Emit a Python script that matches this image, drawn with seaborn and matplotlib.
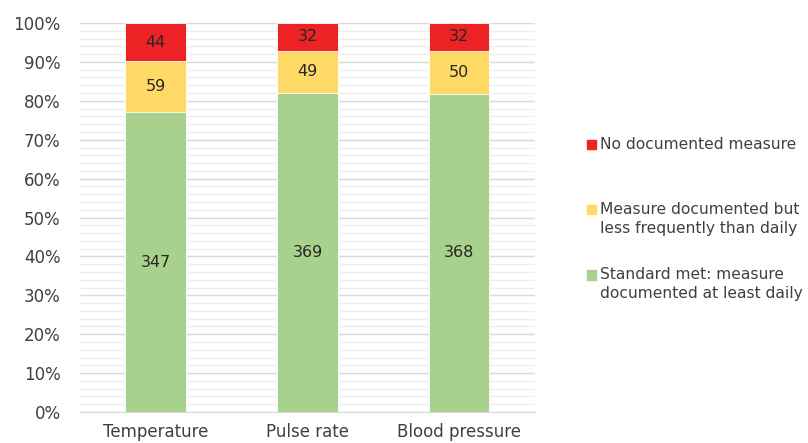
import pandas as pd
import matplotlib.pyplot as plt
import seaborn as sns
from matplotlib.patches import Rectangle
from matplotlib.ticker import MultipleLocator, PercentFormatter

categories = ['Temperature', 'Pulse rate', 'Blood pressure']
met = [347, 369, 368]
less_daily = [59, 49, 50]
none_doc = [44, 32, 32]

labels = ['No documented measure',
          'Measure documented but\nless frequently than daily',
          'Standard met: measure\ndocumented at least daily']
colors = {'none': '#ED2224', 'less': '#FFD966', 'met': '#A9D18E'}

df = pd.DataFrame({'Category': categories, 'met': met,
                   'less': less_daily, 'none': none_doc})
total = df[['met', 'less', 'none']].sum(axis=1)
df['met_pct'] = df['met'] / total * 100
df['less_top'] = (df['met'] + df['less']) / total * 100
df['none_top'] = (df['met'] + df['less'] + df['none']) / total * 100

sns.set_style('white')
plt.rcParams['font.family'] = ['DejaVu Sans']
text_col = '#404040'

fig = plt.figure(figsize=(8.08, 4.43), dpi=100)
ax = fig.add_axes([0.099, 0.07, 0.563, 0.878])

# stacked bars drawn back to front
for col, key in [('none_top', 'none'), ('less_top', 'less'), ('met_pct', 'met')]:
    sns.barplot(data=df, x='Category', y=col, order=categories,
                color=colors[key], width=0.4, saturation=1,
                edgecolor='white', linewidth=0.6, ax=ax, zorder=3)

# value labels in the middle of each segment
for i in range(len(df)):
    r = df.iloc[i]
    ax.text(i, r['met_pct'] / 2, f"{r['met']}", ha='center', va='center',
            fontsize=11.5, color='#262626', zorder=4)
    ax.text(i, (r['met_pct'] + r['less_top']) / 2, f"{r['less']}",
            ha='center', va='center', fontsize=11.5, color='#262626', zorder=4)
    ax.text(i, (r['less_top'] + r['none_top']) / 2, f"{r['none']}",
            ha='center', va='center', fontsize=11.5, color='#262626', zorder=4)

ax.set_ylim(0, 100)
ax.set_xlim(-0.5, 2.5)
ax.yaxis.set_major_locator(MultipleLocator(10))
ax.yaxis.set_minor_locator(MultipleLocator(2))
ax.yaxis.set_major_formatter(PercentFormatter(decimals=0))
ax.grid(which='major', axis='y', color='#d9d9d9', linewidth=1.0, zorder=0)
ax.grid(which='minor', axis='y', color='#eeeeee', linewidth=1.0, zorder=0)
ax.set_axisbelow(True)
ax.set_xlabel('')
ax.set_ylabel('')
ax.tick_params(axis='both', which='both', length=0, labelsize=12, colors=text_col)
ax.tick_params(axis='x', pad=8)
ax.tick_params(axis='y', pad=14)
for s in ['top', 'right', 'left']:
    ax.spines[s].set_visible(False)
ax.spines['bottom'].set_color('#d9d9d9')

# legend on the right
leg_items = [(labels[0], colors['none'], 0.675),
             (labels[1], colors['less'], 0.528),
             (labels[2], colors['met'], 0.381)]
for lab, c, y in leg_items:
    fig.patches.append(Rectangle((0.7265, y - 0.012), 0.0115, 0.021,
                                 transform=fig.transFigure, color=c))
    fig.text(0.743, y + 0.016, lab, ha='left', va='top', fontsize=11.2,
             color=text_col, linespacing=1.3)

fig.savefig('out.png', dpi=100)
